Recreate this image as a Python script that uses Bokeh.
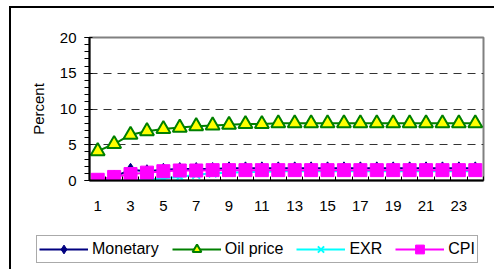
from bokeh.plotting import figure
from bokeh.models import Range1d, FixedTicker, Legend, LegendItem
from bokeh.layouts import column
from bokeh.embed import file_html
from bokeh.resources import INLINE

periods = list(range(1, 25))
monetary = [0.0, 0.5, 1.5, 1.3, 1.5, 1.6, 1.6, 1.6, 1.7, 1.7, 1.7, 1.7,
            1.7, 1.7, 1.7, 1.7, 1.7, 1.7, 1.7, 1.7, 1.7, 1.7, 1.7, 1.7]
oil_price = [4.1, 5.1, 6.4, 6.9, 7.2, 7.4, 7.6, 7.7, 7.8, 7.9, 7.9, 8.0,
             8.0, 8.0, 8.0, 8.0, 8.0, 8.0, 8.0, 8.0, 8.0, 8.0, 8.0, 8.0]
exr = [0.0, 0.0, 0.0, 0.1, 0.3, 0.5, 0.8, 1.0, 1.1, 1.2, 1.2, 1.3,
       1.3, 1.3, 1.3, 1.3, 1.3, 1.3, 1.3, 1.3, 1.3, 1.3, 1.3, 1.3]
cpi = [0.1, 0.5, 0.9, 1.1, 1.3, 1.4, 1.4, 1.45, 1.45, 1.45, 1.45, 1.45,
       1.45, 1.45, 1.45, 1.45, 1.45, 1.45, 1.45, 1.45, 1.45, 1.45, 1.45, 1.45]
x_tick_labels = [1, 3, 5, 7, 9, 11, 13, 15, 17, 19, 21, 23]
y_ticks = [0, 5, 10, 15, 20]
series_names = ["Monetary", "Oil price", "EXR", "CPI"]
series_values = [monetary, oil_price, exr, cpi]

FONT = "Liberation Sans"

styles = [
    dict(color="#000080", marker="diamond", size=13, fill="#000080", mw=1),
    dict(color="#008000", marker="triangle", size=14, fill="#FFFF00", mw=2),
    dict(color="#00FFFF", marker="x", size=11, fill="#00FFFF", mw=2),
    dict(color="#FF00FF", marker="square", size=13, fill="#FF00FF", mw=1),
]


def add_series(fig, i):
    s = styles[i]
    r1 = fig.line(periods, series_values[i], line_color=s["color"], line_width=2)
    r2 = fig.scatter(periods, series_values[i], marker=s["marker"], size=s["size"],
                     fill_color=s["fill"], line_color=s["color"], line_width=s["mw"])
    return r1, r2


p = figure(width=483, height=220, output_backend="svg", toolbar_location=None,
           x_range=Range1d(0.5, 24.5), y_range=Range1d(0, 20),
           min_border_left=78, min_border_top=29, min_border_right=11,
           min_border_bottom=48)
p.frame_align = False
p.outline_line_color = "#808080"
p.outline_line_width = 2

# grid
p.xgrid.grid_line_color = None
p.ygrid.ticker = FixedTicker(ticks=[5, 10, 15])
p.ygrid.grid_line_color = "#333333"
p.ygrid.grid_line_dash = "8 6"
p.ygrid.grid_line_width = 1

# x axis
p.xaxis.ticker = FixedTicker(ticks=x_tick_labels,
                             minor_ticks=[v + 0.5 for v in range(0, 25)])
p.xaxis.major_tick_line_color = None
p.xaxis.minor_tick_in = 4
p.xaxis.minor_tick_out = 0
p.xaxis.minor_tick_line_color = "black"
p.xaxis.axis_line_color = "black"
p.xaxis.axis_line_width = 2
p.xaxis.major_label_standoff = 14
p.xaxis.major_label_text_font = FONT
p.xaxis.major_label_text_font_size = "15px"
p.xaxis.major_label_text_color = "black"

# y axis
p.yaxis.ticker = FixedTicker(ticks=y_ticks,
                             minor_ticks=[v for v in range(0, 21)])
p.yaxis.major_tick_in = 3
p.yaxis.major_tick_out = 5
p.yaxis.minor_tick_in = 0
p.yaxis.minor_tick_out = 5
p.yaxis.major_tick_line_color = "black"
p.yaxis.minor_tick_line_color = "black"
p.yaxis.axis_line_color = "black"
p.yaxis.axis_line_width = 2
p.yaxis.major_label_standoff = 8
p.yaxis.major_label_text_font = FONT
p.yaxis.major_label_text_font_size = "15px"
p.yaxis.major_label_text_color = "black"
p.yaxis.axis_label = "Percent"
p.yaxis.axis_label_text_font = FONT
p.yaxis.axis_label_text_font_size = "15px"
p.yaxis.axis_label_text_font_style = "normal"
p.yaxis.axis_label_text_color = "black"
p.yaxis.axis_label_standoff = 10

for i in [1, 0, 2, 3]:
    add_series(p, i)

# legend strip: same series, its ranges keep the marks out of view
lg = figure(width=483, height=41, output_backend="svg", toolbar_location=None,
            x_range=Range1d(-3, -2), y_range=Range1d(-3, -2),
            x_axis_type=None, y_axis_type=None, min_border=0)
lg.frame_align = False
lg.outline_line_color = None
lg.xgrid.visible = False
lg.ygrid.visible = False
items = []
for i, name in enumerate(series_names):
    r1, r2 = add_series(lg, i)
    items.append(LegendItem(label=name, renderers=[r1, r2]))

legend = Legend(items=items, orientation="horizontal", location=(25, 6))
legend.label_text_font = FONT
legend.label_text_font_size = "16px"
legend.label_text_color = "black"
legend.label_height = 18
legend.glyph_width = 49
legend.glyph_height = 22
legend.label_standoff = 4
legend.spacing = 13
legend.padding = 2
legend.margin = 0
legend.border_line_color = "#555555"
legend.border_line_width = 1
legend.background_fill_alpha = 1
lg.add_layout(legend, "center")

layout = column(p, lg, spacing=0)
layout.styles = {"margin-left": "9px", "margin-top": "6px",
                 "border-left": "2px solid black",
                 "border-top": "2px solid black"}

open("out.html", "w").write(file_html(layout, INLINE))
